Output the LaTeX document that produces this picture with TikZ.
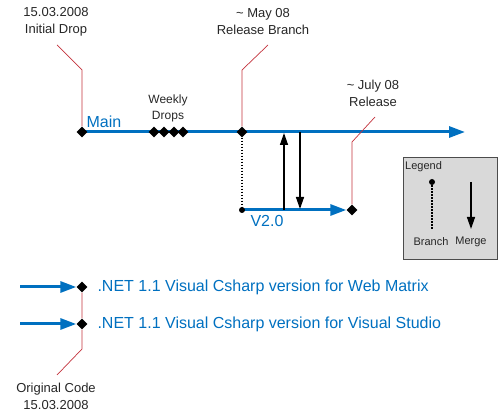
\documentclass[tikz,border=0pt]{standalone}
\usepackage{fontspec}
\setmainfont{Liberation Sans}
\usetikzlibrary{shapes.geometric,arrows.meta,backgrounds,positioning}

\definecolor{mainblue}{RGB}{0,112,192}
\definecolor{calloutred}{RGB}{195,50,60}
\definecolor{legendgray}{RGB}{217,217,217}

\tikzset{
    drop/.style={diamond, fill=black, inner sep=0pt, minimum size=11pt},
    branchdot/.style={circle, fill=black, inner sep=0pt, minimum size=6pt},
    trunk/.style={mainblue, line width=3pt, -{Triangle[length=16pt,width=11pt]}},
    callout/.style={calloutred, line width=0.7pt},
    mergearrow/.style={black, line width=1.4pt, -{Triangle[length=12pt,width=8pt]}},
    branchline/.style={black, line width=1.3pt, dash pattern=on 1.6pt off 1.4pt},
    note/.style={font=\fontsize{13}{17}\selectfont, align=center, text=black!85},
    bluetext/.style={font=\fontsize{16}{18}\selectfont, text=mainblue},
    legendtext/.style={font=\fontsize{11}{13}\selectfont, text=black!85},
}

\begin{document}
\begin{tikzpicture}[x=1pt, y=-1pt]

    \useasboundingbox (0,0) rectangle (501,419);

    % Main line
    \node[drop] (initial) at (82,132) {};
    \node[drop] (branch) at (242,132) {};
    \coordinate (mainend) at (465,132);
    \node[bluetext] (main) at (104,122) {Main};

    % Weekly Drops
    \node[drop] (weekA) at (154,132) {};
    \node[drop] (weekB) at (164,132) {};
    \node[drop] (weekC) at (174,132) {};
    \node[drop] (weekD) at (183,132) {};
    \node[note, font=\fontsize{12}{16}\selectfont] (weekly) at (168,108) {Weekly\\Drops};

    % V2.0 line
    \node[branchdot] (vdot) at (242,210) {};
    \node[drop] (vrelease) at (352,210) {};
    \node[bluetext] (vname) at (267,221) {V2.0};

    % Merges
    \coordinate (upstart) at (284,210);
    \coordinate (upend) at (284,133);
    \coordinate (downstart) at (300,132);
    \coordinate (downend) at (300,209);

    \begin{scope}[on background layer]
        \draw[trunk] (initial.center) -- (mainend);
        \draw[trunk] (vdot.center) -- (vrelease);
    \end{scope}
    \draw[branchline] (branch) -- (vdot);
    \draw[mergearrow] (upstart) -- (upend);
    \draw[mergearrow] (downstart) -- (downend);

    % Callouts
    \coordinate (initialknee) at (82,70);
    \coordinate (initialtip) at (57,45);
    \draw[callout] (initial) -- (initialknee) -- (initialtip);
    \node[note] (initialnote) at (56,22) {15.03.2008\\Initial Drop};

    \coordinate (branchknee) at (242,70);
    \coordinate (branchtip) at (268,45);
    \draw[callout] (branch) -- (branchknee) -- (branchtip);
    \node[note] (branchnote) at (263,22) {\textasciitilde{} May 08\\Release Branch};

    \coordinate (releaseknee) at (352,142);
    \coordinate (releasetip) at (375,117);
    \draw[callout] (vrelease) -- (releaseknee) -- (releasetip);
    \node[note] (releasenote) at (373,93) {\textasciitilde{} July 08\\Release};

    % Legend
    \draw[black!70, fill=legendgray] (403,157) rectangle (497,259);
    \node[legendtext, anchor=north west, inner sep=1pt] (legend) at (404,160) {Legend};
    \node[branchdot] (legenddot) at (432,182) {};
    \coordinate (legenddotend) at (432,229);
    \draw[branchline] (legenddot) -- (legenddotend);
    \coordinate (legendmergestart) at (471,182);
    \coordinate (legendmergeend) at (471,229);
    \draw[mergearrow] (legendmergestart) -- (legendmergeend);
    \node[legendtext] (legendbranch) at (431,242) {Branch};
    \node[legendtext] (legendmerge) at (471,242) {Merge};

    % Original Code
    \node[drop] (webdrop) at (82,287) {};
    \node[drop] (studiodrop) at (82,324) {};
    \coordinate (webstart) at (20,287);
    \coordinate (studiostart) at (20,324);
    \draw[trunk] (webstart) -- (webdrop);
    \draw[trunk] (studiostart) -- (studiodrop);
    \node[bluetext, anchor=west] (webtext) at (94,287) {.NET 1.1 Visual Csharp version for Web Matrix};
    \node[bluetext, anchor=west] (studiotext) at (94,324) {.NET 1.1 Visual Csharp version for Visual Studio};

    \coordinate (originalknee) at (82,349);
    \coordinate (originaltip) at (57,375);
    \draw[callout] (webdrop) -- (studiodrop) -- (originalknee) -- (originaltip);
    \node[note] (originalnote) at (56,396) {Original Code\\15.03.2008};

\end{tikzpicture}
\end{document}
